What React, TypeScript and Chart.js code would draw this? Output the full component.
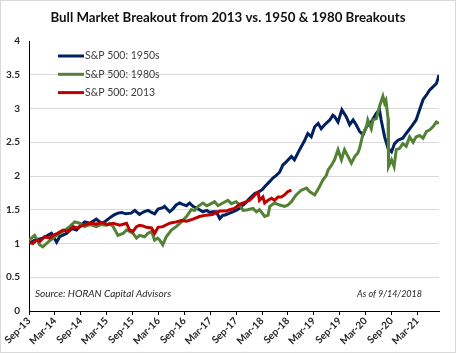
import React, { useEffect, useRef } from 'react';
import { Chart, registerables } from 'chart.js';
Chart.register(...registerables);

// x = months since Sep-2013
const xTickLabels = ['Sep-13', 'Mar-14', 'Sep-14', 'Mar-15', 'Sep-15', 'Mar-16', 'Sep-16', 'Mar-17', 'Sep-17', 'Mar-18', 'Sep-18', 'Mar-19', 'Sep-19', 'Mar-20', 'Sep-20', 'Mar-21'];
const yTickLabels = ['0', '0.5', '1', '1.5', '2', '2.5', '3', '3.5', '4'];
const seriesLabels = ['S&P 500: 1950s', 'S&P 500: 1980s', 'S&P 500: 2013'];
const titleText = 'Bull Market Breakout from 2013 vs. 1950 & 1980 Breakouts';
const sourceText = 'Source: HORAN Capital Advisors';
const asOfText = 'As of 9/14/2018';

const blueMonths = [0, 1.3, 3.2, 5.2, 6.4, 7.1, 8.7, 9.9, 11.0, 11.7, 12.9, 14.1, 15.6, 16.8, 17.5, 18.7, 19.6, 20.6, 21.5, 22.4, 23.7, 24.5, 25.6, 26.6, 27.6, 28.4, 29.1, 29.9, 31.0, 31.4, 32.6, 33.3, 34.1, 34.9, 35.6, 36.5, 37.2, 38.0, 38.9, 39.5, 40.3, 41.2, 41.9, 42.6, 43.4, 44.2, 44.9, 45.3, 46.5, 47.2, 48.0, 48.8, 49.6, 50.2, 50.7, 51.5, 52.3, 53.4, 54.1, 54.6, 55.8, 56.5, 57.3, 58.1, 58.8, 59.6, 60.8, 61.5, 62.7, 63.9, 64.6, 65.4, 66.2, 67.0, 67.7, 68.5, 69.7, 70.4, 70.8, 71.6, 72.5, 73.5, 74.3, 75.1, 75.8, 76.6, 77.4, 78.2, 79.3, 80.5, 81.2, 81.6, 82.4, 83.2, 84.0, 84.7, 85.5, 86.6, 87.4, 88.6, 89.7, 90.5, 91.3, 92.1, 92.8, 93.6, 94.4, 94.8, 95.0];
const blueValues = [1.00, 1.05, 1.08, 1.15, 1.02, 1.10, 1.15, 1.22, 1.20, 1.25, 1.32, 1.30, 1.36, 1.30, 1.32, 1.38, 1.42, 1.45, 1.46, 1.44, 1.45, 1.49, 1.43, 1.47, 1.49, 1.46, 1.44, 1.51, 1.53, 1.55, 1.47, 1.51, 1.57, 1.60, 1.58, 1.56, 1.60, 1.55, 1.52, 1.50, 1.47, 1.49, 1.46, 1.47, 1.47, 1.37, 1.42, 1.42, 1.45, 1.47, 1.49, 1.52, 1.57, 1.60, 1.64, 1.69, 1.74, 1.77, 1.80, 1.84, 1.92, 1.97, 2.01, 2.06, 2.16, 2.21, 2.29, 2.24, 2.39, 2.53, 2.63, 2.58, 2.73, 2.78, 2.70, 2.76, 2.83, 2.90, 2.88, 2.80, 2.98, 2.88, 2.76, 2.83, 2.76, 2.66, 2.61, 2.73, 2.80, 2.93, 2.98, 2.83, 2.58, 2.41, 2.36, 2.48, 2.53, 2.56, 2.63, 2.73, 2.83, 2.98, 3.13, 3.20, 3.27, 3.32, 3.37, 3.45, 3.50];

const greenMonths = [0, 1.3, 2.5, 3.2, 4.4, 5.6, 6.4, 7.9, 9.4, 10.6, 11.7, 12.9, 14.1, 15.6, 16.6, 17.9, 18.7, 19.5, 20.6, 21.8, 22.6, 23.3, 24.1, 24.9, 25.6, 26.8, 27.5, 28.4, 29.1, 29.8, 30.3, 31.0, 31.8, 33.0, 34.1, 35.3, 36.5, 37.6, 38.4, 39.2, 40.3, 41.2, 41.9, 43.0, 43.8, 44.9, 46.1, 46.9, 48.0, 48.8, 49.6, 50.7, 51.9, 52.7, 53.4, 53.8, 54.6, 55.4, 55.8, 56.9, 58.1, 59.2, 60.0, 60.8, 61.9, 63.1, 64.3, 65.0, 66.2, 67.3, 68.1, 68.9, 69.3, 70.1, 70.8, 71.6, 72.4, 73.1, 73.9, 74.7, 75.5, 76.2, 76.6, 77.4, 78.2, 78.5, 79.3, 79.7, 80.5, 81.2, 82.0, 82.4, 82.7, 83.2, 83.3, 84.0, 84.6, 85.1, 85.9, 86.6, 87.4, 88.2, 89.0, 89.7, 90.5, 91.3, 92.1, 92.8, 93.6, 94.4, 95.0];
const greenValues = [1.05, 1.12, 0.98, 0.95, 1.02, 1.08, 1.12, 1.18, 1.25, 1.32, 1.30, 1.25, 1.28, 1.25, 1.28, 1.27, 1.30, 1.25, 1.12, 1.15, 1.20, 1.18, 1.15, 1.08, 1.12, 1.10, 1.15, 1.18, 1.05, 1.08, 1.05, 0.98, 1.10, 1.20, 1.25, 1.32, 1.40, 1.50, 1.49, 1.55, 1.60, 1.56, 1.58, 1.62, 1.56, 1.60, 1.64, 1.59, 1.62, 1.57, 1.49, 1.50, 1.52, 1.47, 1.50, 1.47, 1.40, 1.42, 1.55, 1.60, 1.57, 1.55, 1.57, 1.62, 1.72, 1.79, 1.82, 1.77, 1.72, 1.84, 1.94, 2.01, 2.09, 2.16, 2.24, 2.39, 2.24, 2.39, 2.29, 2.19, 2.29, 2.34, 2.41, 2.63, 2.73, 2.83, 2.70, 2.83, 2.85, 3.03, 3.18, 3.08, 3.12, 2.85, 2.14, 2.24, 2.14, 2.39, 2.41, 2.48, 2.44, 2.58, 2.50, 2.58, 2.60, 2.56, 2.66, 2.68, 2.73, 2.80, 2.78];

const redMonths = [0, 0.9, 1.7, 2.5, 3.6, 4.8, 5.6, 6.6, 7.9, 9.0, 10.2, 11.3, 12.5, 14.1, 15.6, 17.1, 18.2, 19.5, 21.0, 22.6, 23.3, 24.1, 24.9, 25.6, 26.4, 27.2, 28.4, 29.1, 29.9, 31.0, 32.6, 34.1, 35.3, 36.5, 38.0, 39.5, 41.1, 42.5, 44.2, 45.6, 46.5, 47.6, 48.8, 50.4, 51.1, 51.9, 52.5, 53.1, 53.4, 54.2, 54.6, 55.4, 56.2, 56.9, 57.7, 58.5, 59.2, 60.0, 60.8];
const redValues = [1.02, 1.00, 1.05, 1.03, 1.10, 1.08, 1.12, 1.15, 1.20, 1.18, 1.25, 1.23, 1.27, 1.30, 1.29, 1.31, 1.28, 1.30, 1.27, 1.30, 1.20, 1.18, 1.25, 1.27, 1.26, 1.24, 1.23, 1.15, 1.24, 1.25, 1.30, 1.32, 1.34, 1.33, 1.36, 1.40, 1.42, 1.43, 1.48, 1.48, 1.50, 1.52, 1.58, 1.62, 1.64, 1.69, 1.73, 1.76, 1.64, 1.69, 1.60, 1.64, 1.67, 1.64, 1.69, 1.69, 1.72, 1.77, 1.79];

const xMax = 95;
const yMin = 0;
const yMax = 4;
const yStep = 0.5;

const toPoints = (xs: number[], ys: number[]) => xs.map((x, i) => ({ x, y: ys[i] }));

export default function App() {
  const ref = useRef<HTMLCanvasElement>(null);
  useEffect(() => {
    document.body.style.margin = '0';
    const annotations = {
      id: 'annotations',
      afterDraw(chart: any) {
        const ctx = chart.ctx;
        ctx.save();
        chart.data.datasets.forEach((ds: any, i: number) => {
          const y = 55 + i * 18.3;
          ctx.strokeStyle = ds.borderColor;
          ctx.lineWidth = 3;
          ctx.beginPath();
          ctx.moveTo(57, y);
          ctx.lineTo(83, y);
          ctx.stroke();
          ctx.fillStyle = '#404040';
          ctx.font = '10.5px Lato';
          ctx.textBaseline = 'middle';
          ctx.textAlign = 'left';
          ctx.fillText(ds.label, 84, y);
        });
        ctx.fillStyle = '#262626';
        ctx.textBaseline = 'alphabetic';
        ctx.textAlign = 'left';
        ctx.font = 'italic 10px Lato';
        ctx.fillText(sourceText, 34, 296);
        ctx.font = 'italic 9px Lato';
        ctx.fillText(asOfText, 356, 296);
        ctx.fillStyle = '#111';
        ctx.textAlign = 'center';
        ctx.font = 'bold 13.3px Lato';
        ctx.fillText(titleText, 227, 21);
        ctx.restore();
      },
    };
    const chart = new Chart(ref.current!, {
      type: 'line',
      data: {
        datasets: [
          { label: seriesLabels[0], data: toPoints(blueMonths, blueValues), borderColor: '#002060', order: 2 },
          { label: seriesLabels[1], data: toPoints(greenMonths, greenValues), borderColor: '#538135', order: 1 },
          { label: seriesLabels[2], data: toPoints(redMonths, redValues), borderColor: '#C00000', order: 0 },
        ].map((d) => ({ ...d, borderWidth: 3, pointRadius: 0, tension: 0, fill: false })),
      },
      options: {
        responsive: false,
        animation: false,
        devicePixelRatio: 1,
        layout: { padding: { left: 0, right: 16, top: 40, bottom: 0 } },
        plugins: { legend: { display: false }, tooltip: { enabled: false }, title: { display: false } },
        scales: {
          x: {
            type: 'linear',
            min: 0,
            max: xMax,
            afterBuildTicks: (scale: any) => {
              scale.ticks = xTickLabels.map((_, i) => ({ value: i * 6 }));
            },
            afterFit: (scale: any) => { scale.height = 41; scale.paddingLeft = 0; scale.paddingRight = 0; },
            grid: { drawOnChartArea: false, drawTicks: true, tickLength: 4, color: '#000', lineWidth: 1 },
            border: { display: true, color: '#000', width: 1 },
            ticks: {
              autoSkip: false,
              minRotation: 45,
              maxRotation: 45,
              padding: 0,
              color: '#262626',
              font: { family: 'Lato', size: 10, weight: 'bold' },
              callback: (_v: any, i: number) => xTickLabels[i],
            },
          },
          y: {
            min: yMin,
            max: yMax,
            afterBuildTicks: (scale: any) => {
              scale.ticks = yTickLabels.map((_, i) => ({ value: yMin + i * yStep }));
            },
            afterFit: (scale: any) => { scale.width = 28; scale.paddingTop = 0; scale.paddingBottom = 0; },
            grid: {
              drawTicks: false,
              color: (c: any) => (c.tick && (c.tick.value === yMin || c.tick.value === yMax) ? 'rgba(0,0,0,0)' : '#d9d9d9'),
              lineWidth: 1,
            },
            border: { display: true, color: '#000', width: 1 },
            ticks: {
              autoSkip: false,
              padding: 9,
              color: '#262626',
              font: { family: 'Lato', size: 10, weight: 'bold' },
              callback: (_v: any, i: number) => yTickLabels[i],
            },
          },
        },
      },
      plugins: [annotations],
    } as any);
    return () => chart.destroy();
  }, []);
  return (
    <div style={{ position: 'absolute', left: 0, top: 0, width: 456, height: 353, boxSizing: 'border-box', border: '1px solid #d9d9d9', background: '#fff' }}>
      <canvas ref={ref} width={454} height={351} style={{ position: 'absolute', left: 0, top: 0 }} />
    </div>
  );
}
